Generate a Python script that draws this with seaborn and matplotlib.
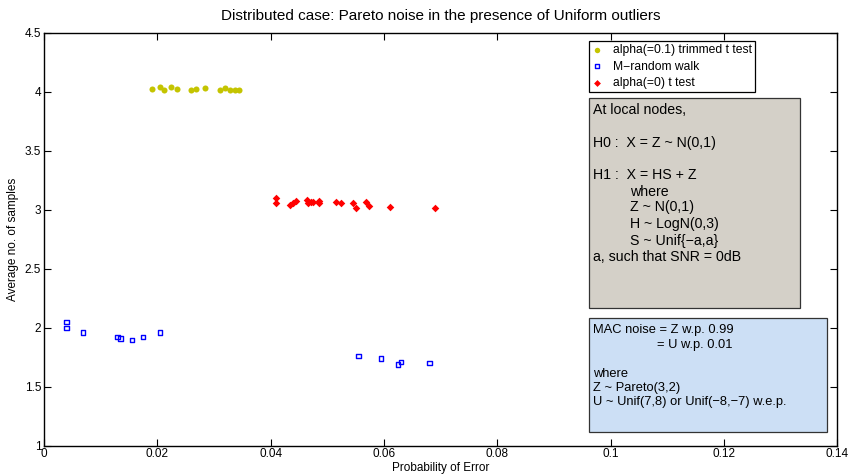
import matplotlib
matplotlib.use("Agg")
import matplotlib.pyplot as plt
import seaborn as sns
import pandas as pd
from matplotlib.patches import Rectangle

# ---- data ----
trim_x = [0.0190, 0.0205, 0.0211, 0.0225, 0.0234, 0.0259, 0.0269, 0.0284,
          0.0311, 0.0319, 0.0328, 0.0337, 0.0345]
trim_y = [4.019, 4.041, 4.013, 4.041, 4.019, 4.013, 4.019, 4.027,
          4.013, 4.027, 4.013, 4.013, 4.013]

mrw_x = [0.0040, 0.0040, 0.0069, 0.0130, 0.0135, 0.0155, 0.0175, 0.0205,
         0.0555, 0.0595, 0.0625, 0.0630, 0.0680]
mrw_y = [2.049, 1.998, 1.956, 1.922, 1.908, 1.892, 1.917, 1.959,
         1.758, 1.736, 1.685, 1.708, 1.699]

t_x = [0.0409, 0.0409, 0.0435, 0.0440, 0.0445, 0.0465, 0.0466, 0.0472, 0.0475,
       0.0486, 0.0486, 0.0515, 0.0525, 0.0546, 0.0551, 0.0569, 0.0574, 0.0611, 0.0690]
t_y = [3.095, 3.053, 3.038, 3.053, 3.075, 3.081, 3.053, 3.066, 3.066,
       3.075, 3.053, 3.066, 3.053, 3.053, 3.015, 3.061, 3.032, 3.024, 3.015]

labels = ["alpha(=0.1) trimmed t test", "M\u2212random walk", "alpha(=0) t test"]
x_ticks = [0, 0.02, 0.04, 0.06, 0.08, 0.1, 0.12, 0.14]
x_ticklabels = ["0", "0.02", "0.04", "0.06", "0.08", "0.1", "0.12", "0.14"]
y_ticks = [1, 1.5, 2, 2.5, 3, 3.5, 4, 4.5]
y_ticklabels = ["1", "1.5", "2", "2.5", "3", "3.5", "4", "4.5"]

box1_lines = ["At local nodes,", "", "H0 :  X = Z ~ N(0,1)", "", "H1 :  X = HS + Z",
              "where", "Z ~ N(0,1)", "H ~ LogN(0,3)", "S ~ Unif{\u2212a,a}",
              "a, such that SNR = 0dB"]
box2_lines = ["MAC noise = Z w.p. 0.99", "= U w.p. 0.01", "", "where",
              "Z ~ Pareto(3,2)", "U ~ Unif(7,8) or Unif(\u22128,\u22127) w.e.p."]

df_trim = pd.DataFrame({"x": trim_x, "y": trim_y})
df_mrw = pd.DataFrame({"x": mrw_x, "y": mrw_y})
df_t = pd.DataFrame({"x": t_x, "y": t_y})

sns.set_style("ticks")
plt.rcParams["font.family"] = ["Liberation Sans", "DejaVu Sans"]
plt.rcParams["text.color"] = "black"
plt.rcParams["axes.labelcolor"] = "black"

W, H = 851, 476
fig = plt.figure(figsize=(W / 100, H / 100), dpi=100)
L, R, T, B = 44, 837.3, 32.5, 445.5
ax = fig.add_axes([L / W, 1 - B / H, (R - L) / W, (B - T) / H])

sns.scatterplot(data=df_trim, x="x", y="y", ax=ax, marker="o", color="#C4C400",
                edgecolor="#C4C400", s=19, linewidth=0, label=labels[0], zorder=3)
sns.scatterplot(data=df_mrw, x="x", y="y", ax=ax, marker="s", facecolor="none",
                edgecolor="#0000FF", s=10, linewidth=1.0, label=labels[1], zorder=3)
sns.scatterplot(data=df_t, x="x", y="y", ax=ax, marker="D", color="#FF0000",
                edgecolor="#FF0000", s=15, linewidth=0, label=labels[2], zorder=3)

ax.set_xlim(0, 0.14)
ax.set_ylim(1, 4.5)
ax.set_xticks(x_ticks)
ax.set_xticklabels(x_ticklabels)
ax.set_yticks(y_ticks)
ax.set_yticklabels(y_ticklabels)
ax.tick_params(direction="in", length=5, width=0.8, labelsize=8.5, top=True, right=True,
               color="black", labelcolor="black", pad=2)
for sp in ax.spines.values():
    sp.set_visible(True)
    sp.set_linewidth(1.0)
    sp.set_color("black")
ax.set_xlabel("Probability of Error", fontsize=8.5, labelpad=1)
ax.set_ylabel("Average no. of samples", fontsize=8.5, labelpad=4)
ax.set_title("Distributed case: Pareto noise in the presence of Uniform outliers",
             fontsize=11, pad=9)

def fx(px):
    return (px - L) / (R - L)

def fy(py):
    return (B - py) / (B - T)

leg = ax.legend(loc="upper left", bbox_to_anchor=(fx(589), fy(41)), frameon=True,
                fancybox=False, framealpha=1, edgecolor="black", fontsize=8.7,
                handlelength=0.8, handletextpad=0.9, borderpad=0.25, labelspacing=0.38,
                borderaxespad=0, markerscale=0.9)
leg.get_frame().set_linewidth(0.9)
for t in leg.get_texts():
    t.set_color("black")

# gray box
ax.add_patch(Rectangle((fx(589.3), fy(308.3)), fx(800) - fx(589.3), fy(97.7) - fy(308.3),
                       transform=ax.transAxes, facecolor="#D4D0C8", edgecolor="#333333",
                       linewidth=0.9, zorder=4))
box1_y = [110, 126.7, 143.3, 159.5, 175, 192.3, 207.3, 224, 241, 257.3]
box1_x = [593, 593, 593, 593, 593, 630, 630, 630, 630, 593]
for txt, px, py in zip(box1_lines, box1_x, box1_y):
    if txt:
        ax.text(fx(px), fy(py), txt, transform=ax.transAxes, fontsize=10.2,
                va="center", ha="left", zorder=5, color="black")

# blue box
ax.add_patch(Rectangle((fx(589.3), fy(432.3)), fx(826.7) - fx(589.3), fy(318.3) - fy(432.3),
                       transform=ax.transAxes, facecolor="#CCDFF5", edgecolor="#333333",
                       linewidth=0.9, zorder=4))
box2_y = [330, 345, 359.7, 374.3, 387.7, 401.7]
box2_x = [593, 656.7, 593, 593, 593, 593]
for txt, px, py in zip(box2_lines, box2_x, box2_y):
    if txt:
        ax.text(fx(px), fy(py), txt, transform=ax.transAxes, fontsize=9.3,
                va="center", ha="left", zorder=5, color="black")

fig.savefig("out.png", dpi=100)
